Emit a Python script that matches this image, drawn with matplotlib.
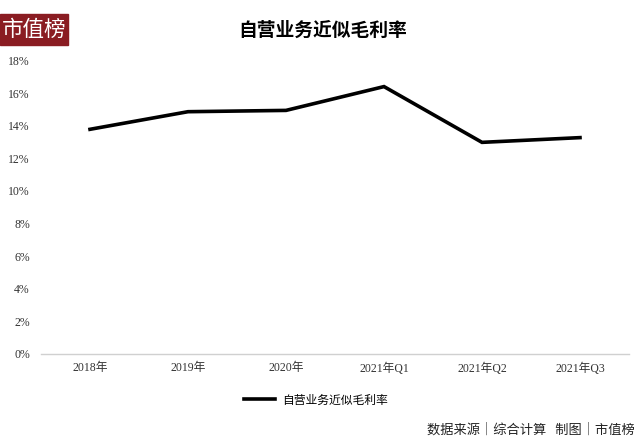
import matplotlib
matplotlib.use("Agg")
import matplotlib.pyplot as plt
from matplotlib.ticker import FuncFormatter

categories = ["2018年", "2019年", "2020年", "2021年Q1", "2021年Q2", "2021年Q3"]
margin = [13.78, 14.86, 14.94, 16.40, 12.98, 13.27]
series_name = "自营业务近似毛利率"
yticks = [0, 2, 4, 6, 8, 10, 12, 14, 16, 18]

plt.rcParams['font.family'] = ['Noto Sans CJK SC', 'DejaVu Sans']

fig = plt.figure(figsize=(6.4, 4.43), dpi=100)
W, H = 640, 443
left, right, top, bottom = 41, 629, 60.5, 354
ax = fig.add_axes([left / W, 1 - bottom / H, (right - left) / W, (bottom - top) / H])

x = list(range(len(categories)))
ax.plot(x, margin, color="black", lw=2.6, solid_joinstyle="miter", label=series_name)
ax.set_xlim(-0.5, len(categories) - 0.5)
ax.set_ylim(0, 18)
ax.set_yticks(yticks)
ax.yaxis.set_major_formatter(FuncFormatter(lambda v, p: f"{int(v)}%"))
ax.set_xticks(x)
ax.set_xticklabels(categories)
for s in ["top", "right", "left"]:
    ax.spines[s].set_visible(False)
ax.spines["bottom"].set_color("#d0d0d0")
ax.spines["bottom"].set_linewidth(1.0)
ax.tick_params(axis="both", length=0, labelsize=8.5, colors="#333333")
ax.tick_params(axis="x", pad=6)
ax.tick_params(axis="y", pad=8)
for lbl in ax.get_yticklabels():
    lbl.set_family(["Liberation Serif", "DejaVu Sans"])
for lbl in ax.get_xticklabels():
    lbl.set_family(["Liberation Serif", "Noto Sans CJK SC"])

# logo
fig.patches.append(plt.Rectangle((0, 1 - 45 / H), 68 / W, 31 / H, transform=fig.transFigure,
                                 color="#8a1c22", zorder=0))
fig.text(34 / W, 1 - 29.5 / H, "市值榜", color="white", fontsize=15.5, ha="center", va="center")

# title
fig.text(323 / W, 1 - 30 / H, series_name, fontsize=13.5, fontweight="bold", ha="center", va="center")

# legend
leg = ax.legend(loc="center", bbox_to_anchor=(316 / W, 1 - 400 / H), bbox_transform=fig.transFigure,
                frameon=False, fontsize=8.5, handlelength=2.6, handletextpad=0.6)

# footer
fig.text(635 / W, 1 - 430 / H, "数据来源│综合计算   制图│市值榜", fontsize=9.5, ha="right", va="center",
         color="#222222", family=["Noto Sans CJK SC", "DejaVu Sans"])

fig.savefig("out.png", dpi=100)
